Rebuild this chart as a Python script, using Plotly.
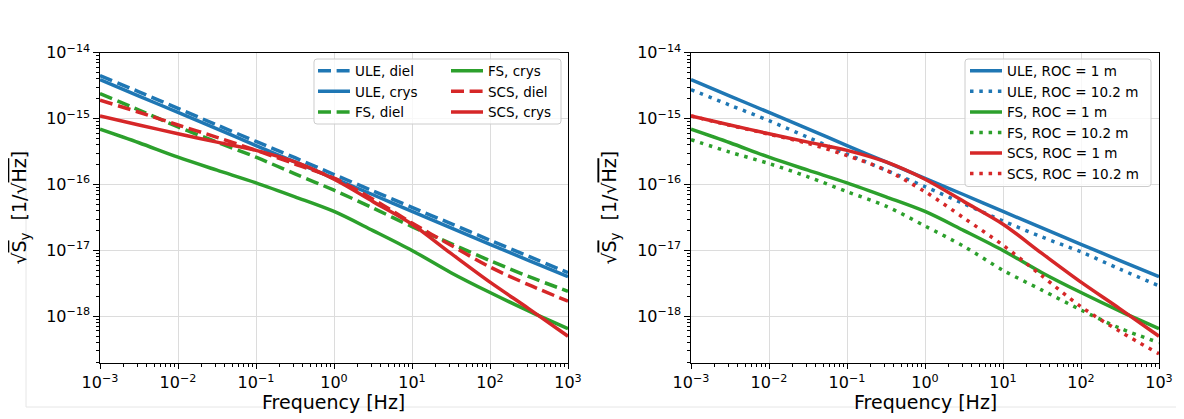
import plotly.graph_objects as go

# ---------------- data ----------------
freq = [1e-3, 3.16e-3, 1e-2, 3.16e-2, 0.1, 0.316, 1, 3.16, 10, 31.6, 100, 316, 1000]

# left panel
ule_diel = [4.5e-15, 2.55e-15, 1.43e-15, 8.0e-16, 4.5e-16, 2.55e-16, 1.42e-16, 8.0e-17, 4.5e-17, 2.55e-17, 1.43e-17, 8.1e-18, 4.6e-18]
ule_crys = [3.9e-15, 2.2e-15, 1.24e-15, 7.0e-16, 3.9e-16, 2.2e-16, 1.24e-16, 7.0e-17, 3.9e-17, 2.2e-17, 1.24e-17, 7.0e-18, 4.0e-18]
fs_diel = [2.4e-15, 1.35e-15, 7.5e-16, 4.4e-16, 2.6e-16, 1.45e-16, 8.2e-17, 4.4e-17, 2.3e-17, 1.27e-17, 7.0e-18, 4.0e-18, 2.4e-18]
fs_crys = [6.9e-16, 4.3e-16, 2.6e-16, 1.65e-16, 1.06e-16, 6.5e-17, 3.9e-17, 2.0e-17, 1.0e-17, 4.6e-18, 2.3e-18, 1.2e-18, 6.5e-19]
scs_diel = [1.9e-15, 1.25e-15, 8.0e-16, 5.2e-16, 3.3e-16, 2.05e-16, 1.25e-16, 6.0e-17, 2.6e-17, 1.2e-17, 5.6e-18, 3.0e-18, 1.7e-18]
scs_crys = [1.1e-15, 8.0e-16, 5.9e-16, 4.4e-16, 3.3e-16, 2.2e-16, 1.2e-16, 5.5e-17, 2.5e-17, 9.0e-18, 3.3e-18, 1.3e-18, 5.0e-19]

# right panel (ROC = 1 m curves equal the crystalline ones)
ule_roc1 = ule_crys
fs_roc1 = fs_crys
scs_roc1 = scs_crys
ule_roc10 = [2.75e-15, 1.6e-15, 9.3e-16, 5.2e-16, 2.9e-16, 1.65e-16, 9.3e-17, 5.1e-17, 2.8e-17, 1.6e-17, 9.5e-18, 5.2e-18, 2.9e-18]
fs_roc10 = [4.8e-16, 3.1e-16, 2.08e-16, 1.31e-16, 7.8e-17, 4.7e-17, 2.35e-17, 1.15e-17, 5.0e-18, 2.5e-18, 1.25e-18, 6.6e-19, 4.0e-19]
scs_roc10 = [1.1e-15, 7.9e-16, 5.8e-16, 4.2e-16, 2.75e-16, 1.65e-16, 7.8e-17, 3.1e-17, 1.2e-17, 4.1e-18, 1.4e-18, 5.9e-19, 2.7e-19]

left_names = ["ULE, diel", "ULE, crys", "FS, diel", "FS, crys", "SCS, diel", "SCS, crys"]
right_names = ["ULE, ROC = 1 m", "ULE, ROC = 10.2 m", "FS, ROC = 1 m",
               "FS, ROC = 10.2 m", "SCS, ROC = 1 m", "SCS, ROC = 10.2 m"]

x_exponents = [-3, -2, -1, 0, 1, 2, 3]
y_exponents = [-18, -17, -16, -15, -14]

# ---------------- styling ----------------
OFF = 8                      # the page body keeps an 8 px margin
W, H = 1184 - OFF, 419 - OFF
FONT = "DejaVu Sans"
BLUE, GREEN, RED = "#1f77b4", "#2ca02c", "#d62728"
LW = 3.5
DASH = "13px,5.6px"
DOT = "3.5px,5.8px"
SMOOTH = 0.9


def px(x):
    return (x - OFF) / W


def py(y):
    return 1 - (y - OFF) / H


fig = go.Figure()

left_series = [ule_diel, ule_crys, fs_diel, fs_crys, scs_diel, scs_crys]
left_style = [(BLUE, DASH, "legend"), (BLUE, "solid", "legend"), (GREEN, DASH, "legend"),
              (GREEN, "solid", "legend2"), (RED, DASH, "legend2"), (RED, "solid", "legend2")]
for name, ys, (col, dash, leg) in zip(left_names, left_series, left_style):
    fig.add_trace(go.Scatter(x=freq, y=ys, name=name, mode="lines", legend=leg,
                             line=dict(color=col, width=LW, dash=dash, shape="spline", smoothing=SMOOTH),
                             xaxis="x", yaxis="y"))

right_series = [ule_roc1, ule_roc10, fs_roc1, fs_roc10, scs_roc1, scs_roc10]
right_style = [(BLUE, "solid"), (BLUE, DOT), (GREEN, "solid"), (GREEN, DOT), (RED, "solid"), (RED, DOT)]
for name, ys, (col, dash) in zip(right_names, right_series, right_style):
    fig.add_trace(go.Scatter(x=freq, y=ys, name=name, mode="lines", legend="legend3",
                             line=dict(color=col, width=LW, dash=dash, shape="spline", smoothing=SMOOTH),
                             xaxis="x2", yaxis="y2"))


def sup(n):
    return "10<sup>" + ("\u2212" if n < 0 else "") + str(abs(n)) + "</sup>"


def minor_vals(exps):
    vals = []
    for e in range(exps[0] - 1, exps[-1] + 1):
        for k in range(2, 10):
            vals.append(k * 10.0 ** e)
    return vals


tickfont = dict(family=FONT, size=16, color="black")
common = dict(type="log", showline=True, linecolor="black", linewidth=1.3, mirror=True,
              ticks="outside", ticklen=5.5, tickwidth=1.3, tickcolor="black",
              showgrid=True, gridcolor="#dcdcdc", gridwidth=1.2, zeroline=False,
              tickfont=tickfont, tickmode="array", automargin=False)

xax = dict(common, range=[-3, 3], tickvals=[10.0 ** e for e in x_exponents],
           ticktext=[sup(e) for e in x_exponents],
           minor=dict(tickmode="array", tickvals=minor_vals(x_exponents), ticks="outside",
                      ticklen=3.2, tickwidth=1, tickcolor="black", showgrid=False))
yax = dict(common, range=[-18.7, -14.0], tickvals=[10.0 ** e for e in y_exponents],
           ticktext=[sup(e) for e in y_exponents],
           minor=dict(tickmode="array", tickvals=minor_vals([-19] + y_exponents), ticks="outside",
                      ticklen=3.2, tickwidth=1, tickcolor="black", showgrid=False))

ydom = [py(362.5), py(52.7)]
legfont = dict(family=FONT, size=13.5, color="black")
LEG_TOP = 55.5

fig.update_layout(
    template="none",
    width=W, height=H, margin=dict(l=0, r=0, t=0, b=0, pad=0, autoexpand=False),
    paper_bgcolor="white", plot_bgcolor="white",
    font=dict(family=FONT, color="black"),
    xaxis=dict(xax, domain=[px(100), px(568)], anchor="y"),
    yaxis=dict(yax, domain=ydom, anchor="x"),
    xaxis2=dict(xax, domain=[px(691), px(1159)], anchor="y2"),
    yaxis2=dict(yax, domain=ydom, anchor="x2"),
    legend=dict(x=px(313), y=py(LEG_TOP), xanchor="left", yanchor="top", bgcolor="rgba(0,0,0,0)",
                borderwidth=0, font=legfont, itemwidth=32),
    legend2=dict(x=px(446), y=py(LEG_TOP), xanchor="left", yanchor="top", bgcolor="rgba(0,0,0,0)",
                 borderwidth=0, font=legfont, itemwidth=32),
    legend3=dict(x=px(965), y=py(LEG_TOP), xanchor="left", yanchor="top", bgcolor="rgba(0,0,0,0)",
                 borderwidth=0, font=legfont, itemwidth=32),
    showlegend=True,
)


def rrect(x0, y0, x1, y1, r=3):
    pts = [("M", x0 + r, y0), ("L", x1 - r, y0), ("Q", x1, y0, x1, y0 + r), ("L", x1, y1 - r),
           ("Q", x1, y1, x1 - r, y1), ("L", x0 + r, y1), ("Q", x0, y1, x0, y1 - r),
           ("L", x0, y0 + r), ("Q", x0, y0, x0 + r, y0)]
    s = ""
    for p in pts:
        cmd = p[0]
        coords = p[1:]
        parts = []
        for i in range(0, len(coords), 2):
            parts.append(f"{px(coords[i]):.5f},{py(coords[i + 1]):.5f}")
        s += cmd + " ".join(parts) + " "
    return s + "Z"


shapes = [
    dict(type="path", xref="paper", yref="paper", path=rrect(314, 59, 561, 124),
         fillcolor="rgba(255,255,255,0.8)", line=dict(color="#cccccc", width=1), layer="above"),
    dict(type="path", xref="paper", yref="paper", path=rrect(965, 59, 1151, 186.5),
         fillcolor="rgba(255,255,255,0.8)", line=dict(color="#cccccc", width=1), layer="above"),
    dict(type="line", xref="paper", yref="paper", x0=px(26), x1=px(26), y0=py(150), y1=py(407),
         line=dict(color="#e6e6e6", width=1)),
    dict(type="line", xref="paper", yref="paper", x0=px(26), x1=px(1184), y0=py(407), y1=py(407),
         line=dict(color="#e6e6e6", width=1)),
]
fig.update_layout(shapes=shapes)

ytitle = ("\u221a<span style='text-decoration:overline'>S</span><sub>y</sub>  "
          "[1/\u221a<span style='text-decoration:overline'>Hz</span>]")
annotations = []
for cx in (334, 925):
    annotations.append(dict(text="Frequency [Hz]", x=px(cx), y=py(402), xref="paper", yref="paper",
                            showarrow=False, xanchor="center", yanchor="middle",
                            font=dict(family=FONT, size=19, color="black")))
for cx in (21, 611):
    annotations.append(dict(text=ytitle, x=px(cx), y=py(207.6), xref="paper", yref="paper",
                            showarrow=False, xanchor="center", yanchor="middle", textangle=-90,
                            font=dict(family=FONT, size=19, color="black")))
fig.update_layout(annotations=annotations)

fig.write_html("out.html")
